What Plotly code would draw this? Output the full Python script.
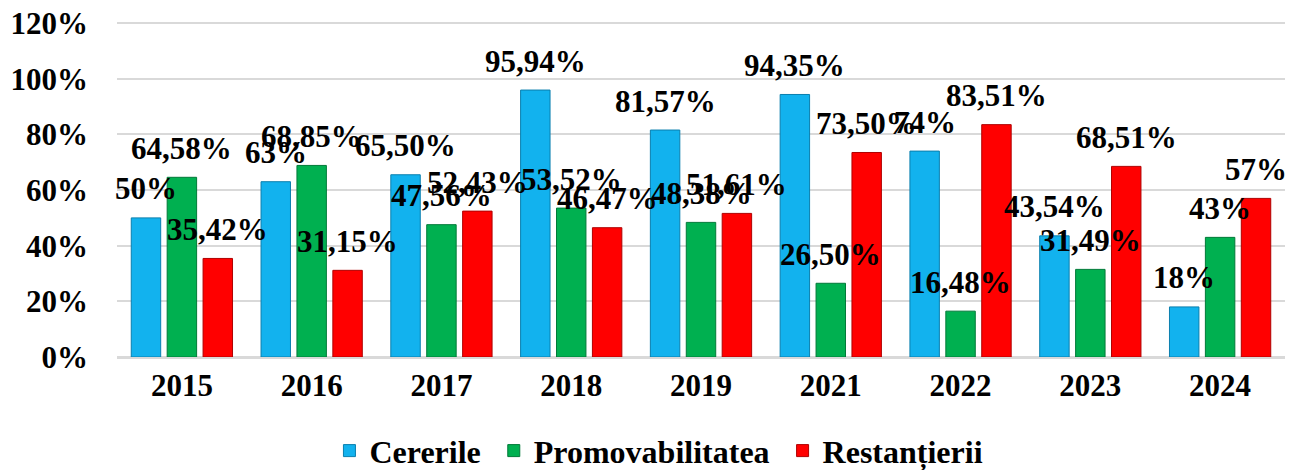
import plotly.graph_objects as go

years = ["2015", "2016", "2017", "2018", "2019", "2021", "2022", "2023", "2024"]
cererile = [50, 63, 65.50, 95.94, 81.57, 94.35, 74, 43.54, 18]
promovabilitatea = [64.58, 68.85, 47.56, 53.52, 48.38, 26.50, 16.48, 31.49, 43]
restantierii = [35.42, 31.15, 52.43, 46.47, 51.61, 73.50, 83.51, 68.51, 57]
series_names = ["Cererile", "Promovabilitatea", "Restanțierii"]
y_ticks = [0, 20, 40, 60, 80, 100, 120]

colors = ["#12B2EE", "#00B050", "#FF0000"]
lines = ["#0A7FAE", "#007A38", "#B00000"]

FONT = "Liberation Serif"
# page has an 8px body margin, so the figure is sized to fit inside it
W, H = 1294, 462
ML, MR, MT, MB = 109, 17, 14, 113
BARGAP, BARGROUPGAP = 0.17, 0.18


def fmt(v):
    if float(v).is_integer():
        return f"{int(v)}%"
    return f"{v:.2f}".replace(".", ",") + "%"


fig = go.Figure()
all_series = [cererile, promovabilitatea, restantierii]
for k, (name, vals, c, lc) in enumerate(zip(series_names, all_series, colors, lines)):
    pad = "\u00a0" if k < len(series_names) - 1 else ""
    fig.add_trace(go.Bar(
        x=years, y=vals, name=name + pad,
        marker=dict(color=c, line=dict(color=lc, width=1)),
    ))

plot_w = W - ML - MR
slot_px = plot_w / len(years) * (1 - BARGAP) / 3
for i, vals in enumerate(all_series):
    for j, v in enumerate(vals):
        fig.add_annotation(
            x=j, y=v, text=f"<b>{fmt(v)}</b>", showarrow=False,
            xref="x", yref="y", xanchor="center", yanchor="middle",
            xshift=(i - 1) * slot_px, yshift=29,
            font=dict(family=FONT, size=31, color="black"),
        )

fig.update_layout(
    width=W, height=H,
    margin=dict(l=ML, r=MR, t=MT, b=MB, autoexpand=False),
    barmode="group", bargap=BARGAP, bargroupgap=BARGROUPGAP,
    plot_bgcolor="white", paper_bgcolor="white",
    font=dict(family=FONT, color="black"),
    showlegend=True,
    legend=dict(
        orientation="h", x=0.464, xanchor="center", y=-0.28, yanchor="middle",
        font=dict(family=FONT, size=32, color="black", weight="bold"),
        itemwidth=30,
    ),
)
fig.update_yaxes(
    range=[0, 120.4], tickvals=y_ticks, ticktext=[f"<b>{t}%</b>" for t in y_ticks],
    showgrid=True, gridcolor="#D9D9D9", gridwidth=1.5,
    zeroline=True, zerolinecolor="#D9D9D9", zerolinewidth=1.5,
    tickfont=dict(family=FONT, size=31, color="black"),
    ticklabelstandoff=28, automargin=False, ticklabeloverflow="allow",
)
fig.update_xaxes(
    type="category", range=[-0.5, len(years) - 0.5],
    tickvals=years, ticktext=[f"<b>{y}</b>" for y in years],
    tickfont=dict(family=FONT, size=31, color="black"),
    showline=True, linecolor="#D9D9D9", linewidth=1.5,
    ticklabelstandoff=0, automargin=False,
)

fig.write_html("out.html")
